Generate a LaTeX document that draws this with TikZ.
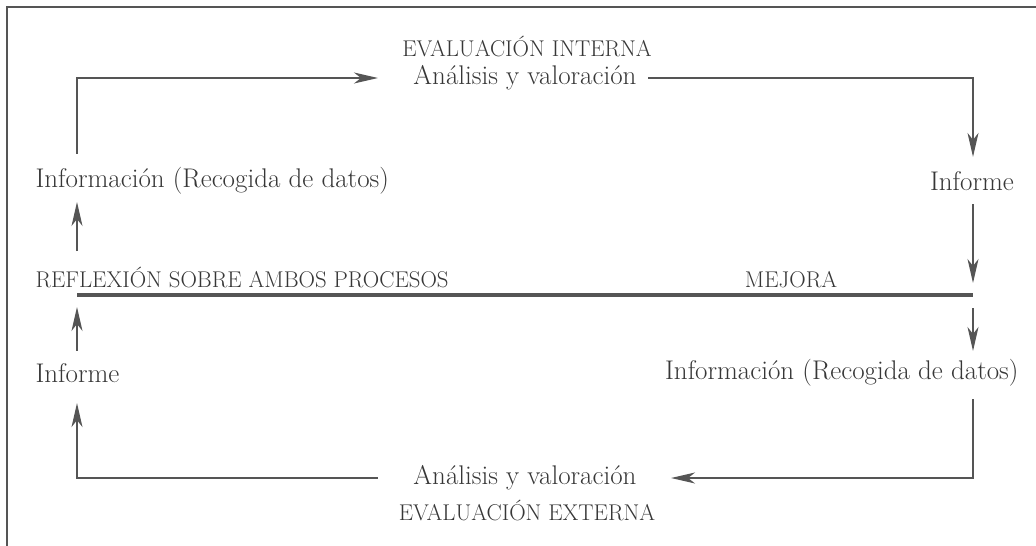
\documentclass[tikz,border=0pt]{standalone}
\usepackage{tikz}
\usetikzlibrary{arrows.meta}
\definecolor{inkgray}{RGB}{55,55,55}
\definecolor{linegray}{RGB}{85,85,85}

\begin{document}
\begin{tikzpicture}[x=1pt,y=-1pt,
    txt/.style={text=inkgray,font=\fontsize{27}{32}\selectfont},
    caps/.style={text=inkgray,font=\fontsize{22.8}{27}\selectfont},
    flow/.style={draw=linegray,line width=1.3pt,-{Stealth[length=24pt,width=11pt,inset=7pt]}}]
    \useasboundingbox (0,0) rectangle (1036,546);
    \draw[linegray,line width=1.5pt] (1036,7) -- (7,7) -- (7,546); % frame
    \node (evI) at (527,46) [caps] {EVALUACIÓN INTERNA};
    \node (anaI) at (525,78) [txt] {Análisis y valoración};
    \node (infoL) at (32,181) [txt,anchor=west] {Información (Recogida de datos)};
    \node (infR) at (972,181) [txt] {Informe};
    \node (refl) at (32,287) [caps,anchor=base west] {REFLEXIÓN SOBRE AMBOS PROCESOS};
    \node (mej) at (791,287) [caps,anchor=base] {MEJORA};
    \node (infL) at (32,373) [txt,anchor=west] {Informe};
    \node (infoR) at (1022,373) [txt,anchor=east] {Información (Recogida de datos)};
    \node (anaE) at (525,478) [txt] {Análisis y valoración};
    \node (evE) at (527,510) [caps] {EVALUACIÓN EXTERNA};
    \coordinate (lineL) at (77,295);
    \coordinate (lineR) at (973,295);
    \draw[linegray,line width=3.8pt] (lineL) -- (lineR);
    \draw[flow,shorten <=10pt,shorten >=32pt] (infoL.north -| lineL) |- (anaI.west);
    \draw[flow,shorten <=8pt,shorten >=11pt] (anaI.east) -| (infR.north -| lineR);
    \draw[flow,shorten <=10pt,shorten >=12pt] (infR.south -| lineR) -- (lineR);
    \draw[flow,shorten <=13pt,shorten >=5pt] (lineR) -- (infoR.north -| lineR);
    \draw[flow,shorten <=9pt,shorten >=31pt] (infoR.south -| lineR) |- (anaE.east);
    \draw[flow,shorten <=32pt,shorten >=17pt] (anaE.west) -| (infL.south -| lineL);
    \draw[flow,shorten <=9pt,shorten >=12pt] (infL.north -| lineL) -- (lineL);
    \draw[flow,shorten <=12pt,shorten >=4pt] (refl.north -| lineL) -- (infoL.south -| lineL);
  \end{tikzpicture}
\end{document}
